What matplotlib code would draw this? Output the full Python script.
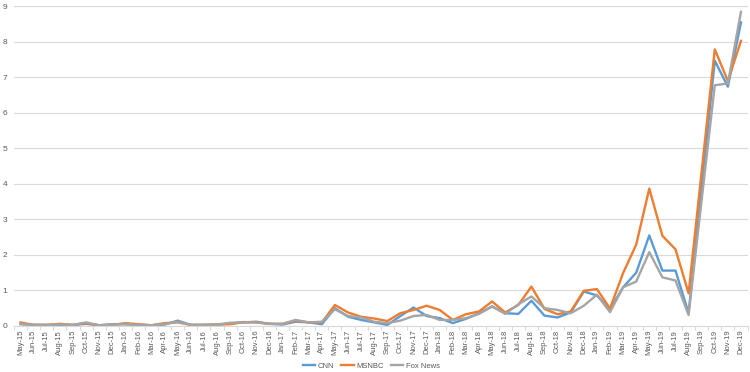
import matplotlib
matplotlib.use("Agg")
import matplotlib.pyplot as plt
from matplotlib.ticker import FixedLocator, MultipleLocator

months = []
for y in range(15, 20):
    for m in ["Jan", "Feb", "Mar", "Apr", "May", "Jun", "Jul", "Aug", "Sep", "Oct", "Nov", "Dec"]:
        months.append(f"{m}-{y}")
months = months[4:]  # May-15 .. Dec-19

cnn = [0.04, 0.02, 0.02, 0.02, 0.02, 0.05, 0.01, 0.04,
       0.04, 0.02, 0.01, 0.03, 0.14, 0.02, 0.02, 0.03, 0.06, 0.09, 0.11, 0.05,
       0.03, 0.11, 0.09, 0.04, 0.49, 0.25, 0.16, 0.09, 0.02, 0.27, 0.51, 0.27,
       0.21, 0.07, 0.19, 0.35, 0.54, 0.35, 0.33, 0.70, 0.28, 0.23, 0.37, 0.96,
       0.85, 0.46, 1.08, 1.49, 2.54, 1.55, 1.55, 0.35, 3.90, 7.46, 6.73, 8.54]
msnbc = [0.09, 0.02, 0.02, 0.05, 0.02, 0.07, 0.01, 0.02,
         0.07, 0.04, 0.01, 0.07, 0.09, 0.02, 0.02, 0.03, 0.04, 0.10, 0.09, 0.05,
         0.05, 0.14, 0.09, 0.09, 0.58, 0.37, 0.25, 0.20, 0.13, 0.35, 0.44, 0.56,
         0.44, 0.16, 0.32, 0.40, 0.68, 0.37, 0.58, 1.10, 0.47, 0.32, 0.40, 0.98,
         1.03, 0.48, 1.48, 2.28, 3.86, 2.53, 2.15, 0.91, 4.35, 7.78, 6.89, 8.02]
fox = [0.05, 0.02, 0.02, 0.03, 0.02, 0.09, 0.01, 0.03,
       0.04, 0.02, 0.01, 0.04, 0.11, 0.02, 0.02, 0.03, 0.08, 0.09, 0.09, 0.05,
       0.05, 0.16, 0.09, 0.11, 0.46, 0.27, 0.23, 0.11, 0.07, 0.14, 0.27, 0.30,
       0.16, 0.16, 0.21, 0.33, 0.54, 0.33, 0.60, 0.82, 0.49, 0.44, 0.35, 0.56,
       0.87, 0.38, 1.08, 1.24, 2.07, 1.36, 1.27, 0.30, 3.55, 6.77, 6.82, 8.84]
series_names = ["CNN", "MSNBC", "Fox News"]
colors = ["#5B9BD5", "#ED7D31", "#A5A5A5"]

plt.rcParams['font.family'] = ['Liberation Sans', 'DejaVu Sans']

fig = plt.figure(figsize=(7.5, 3.72), dpi=100)
ax = fig.add_axes([0.0187, 0.1247, 0.978, 0.859])

x = list(range(len(months)))
for vals, name, c in zip([cnn, msnbc, fox], series_names, colors):
    ax.plot(x, vals, color=c, lw=1.7, label=name, solid_joinstyle='round')

ax.set_xlim(-0.5, len(months) - 0.5)
ax.set_ylim(0, 9)
ax.yaxis.set_major_locator(MultipleLocator(1))
ax.grid(axis='y', color='#D9D9D9', lw=0.8)
ax.set_axisbelow(True)
for s in ['top', 'right', 'left']:
    ax.spines[s].set_visible(False)
ax.spines['bottom'].set_color('#D9D9D9')
ax.spines['bottom'].set_linewidth(0.8)

ax.set_xticks(x)
ax.set_xticklabels(months, rotation=90, fontsize=5.5, color='#595959')
ax.tick_params(axis='x', which='major', length=0, pad=3)
ax.xaxis.set_minor_locator(FixedLocator([i - 0.5 for i in range(len(months) + 1)]))
ax.tick_params(axis='x', which='minor', length=3, color='#D9D9D9', width=0.8)
ax.tick_params(axis='y', length=0, labelsize=6, labelcolor='#595959', pad=5)

fig.legend(loc='lower center', bbox_to_anchor=(0.495, -0.012), ncol=3, frameon=False,
           fontsize=5.5, handlelength=1.6, handletextpad=0.3, columnspacing=1.0,
           labelcolor='#595959')

fig.savefig("out.png", dpi=100)
